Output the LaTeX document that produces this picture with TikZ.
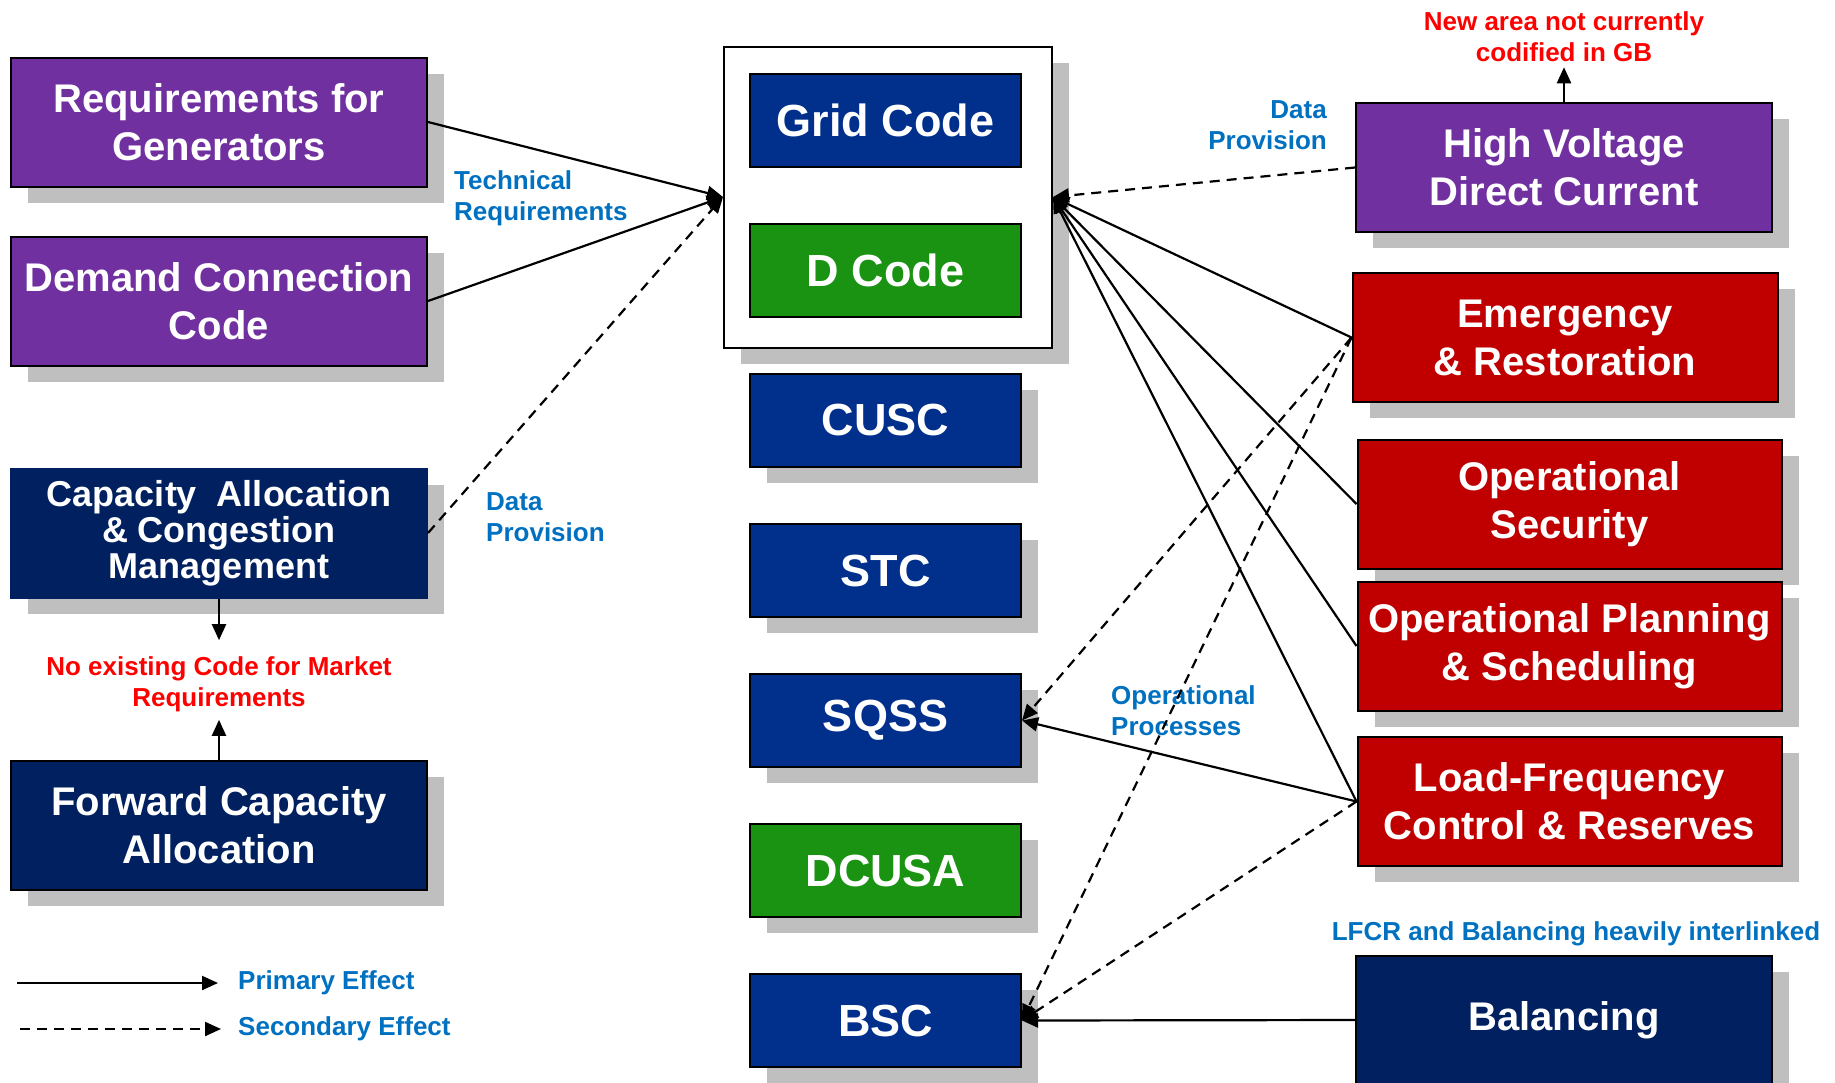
\documentclass[tikz,border=0pt]{standalone}
\usepackage{fontspec}
\setmainfont{Liberation Sans}
\usepackage{tikz}
\usetikzlibrary{positioning}
\usetikzlibrary{shadows}
\usetikzlibrary{arrows.meta}

\definecolor{codepurple}{HTML}{7030A0}
\definecolor{gridblue}{HTML}{00308C}
\definecolor{darknavy}{HTML}{002060}
\definecolor{codegreen}{HTML}{1A9212}
\definecolor{alertred}{HTML}{C00000}
\definecolor{warnred}{HTML}{FF0000}
\definecolor{labelblue}{HTML}{0070C0}
\definecolor{shadowgray}{HTML}{BFBFBF}

\begin{document}
\begin{tikzpicture}[x=1pt, y=-1pt,
		codeframe/.style = {draw, line width=2pt, rectangle, text=white, align=center, inner sep=0pt, font=\bfseries\fontsize{40}{48}\selectfont},
		boxshadow/.style = {drop shadow={shadow xshift=17pt, shadow yshift=-16pt, fill=shadowgray, opacity=1}},
		sidebox/.style = {codeframe, boxshadow, minimum width=416pt, minimum height=129pt},
		codebox/.style = {codeframe, minimum width=271pt, minimum height=93pt, font=\bfseries\fontsize{45}{54}\selectfont},
		note/.style = {text=labelblue, inner sep=0pt, font=\bfseries\fontsize{26}{31}\selectfont},
		warn/.style = {note, text=warnred, align=center},
		effect/.style = {line width=2.2pt, -{Triangle[length=16pt,width=14pt]}},
		side effect/.style = {effect, dash pattern=on 10pt off 7pt}]
		\useasboundingbox (0,0) rectangle (1835,1082);
		\clip (0,0) rectangle (1835,1082);

		\node[sidebox, fill=codepurple] at (219,122) (reqgen) {Requirements for\\Generators};
		\node[sidebox, fill=codepurple] at (219,301) (demand) {Demand Connection\\Code};
		\node[sidebox, fill=darknavy, draw=darknavy, font=\bfseries\fontsize{36}{36}\selectfont] at (219,533) (cacm) {Capacity \ Allocation\\\& Congestion\\Management};
		\node[sidebox, fill=darknavy] at (219,825) (fca) {Forward Capacity\\Allocation};
		\node[warn] at (219,684) (noexist) {No existing Code for Market\\Requirements};

		\node[draw, line width=2pt, fill=white, boxshadow, minimum width=328pt, minimum height=301pt] at (888,197) (codes) {};
		\node[codebox, fill=gridblue] at (885.5,120.5) (grid) {Grid Code};
		\node[codebox, fill=codegreen, below = 55pt of grid] (dcode) {D Code};
		\node[codebox, boxshadow, fill=gridblue, below = 55pt of dcode] (cusc) {CUSC};
		\node[codebox, boxshadow, fill=gridblue, below = 55pt of cusc] (stc) {STC};
		\node[codebox, boxshadow, fill=gridblue, below = 55pt of stc] (sqss) {SQSS};
		\node[codebox, boxshadow, fill=codegreen, below = 55pt of sqss] (dcusa) {DCUSA};
		\node[codebox, boxshadow, fill=gridblue, below = 55pt of dcusa] (bsc) {BSC};

		\node[sidebox, fill=codepurple] at (1564,167.5) (hvdc) {High Voltage\\Direct Current};
		\node[warn] at (1564,37) (newarea) {New area not currently\\codified in GB};
		\node[sidebox, fill=alertred, minimum width=425pt] at (1565,337.5) (emerg) {Emergency\\\& Restoration};
		\node[sidebox, fill=alertred, minimum width=424pt] at (1569.5,504) (opsec) {Operational\\Security};
		\node[sidebox, fill=alertred, minimum width=424pt] at (1569.5,646) (opplan) {Operational Planning\\\& Scheduling};
		\node[sidebox, fill=alertred, minimum width=424pt] at (1569.5,801.5) (lfcr) {Load-Frequency\\Control \& Reserves};
		\node[sidebox, fill=darknavy, minimum height=128pt] at (1564,1020) (bal) {Balancing};

		\node[note, align=left, anchor=west] at (454,198) (techreq) {Technical\\Requirements};
		\node[note, align=left, anchor=west] at (486,517) (dataleft) {Data\\Provision};
		\node[note, align=right, anchor=east] at (1327,125) (dataright) {Data\\Provision};
		\node[note, align=left, anchor=west] at (1111,711) (opproc) {Operational\\Processes};
		\node[note] at (1576,934) (interlink) {LFCR and Balancing heavily interlinked};

		\draw[effect] (reqgen.east) to (codes.west);
		\draw[effect] (demand.east) to (codes.west);
		\draw[side effect] (cacm.east) to (codes.west);
		\draw[side effect] (hvdc.west) to (codes.east);
		\foreach \src in {emerg, opsec, opplan, lfcr}
			\draw[effect] (\src.west) to (codes.east);
		\draw[effect] (lfcr.west) to (sqss.east);
		\draw[side effect] (emerg.west) to (sqss.east);
		\draw[side effect] (emerg.west) to (bsc.east);
		\draw[side effect] (lfcr.west) to (bsc.east);
		\draw[effect] (bal.west) to (bsc.east);

		\draw[effect, shorten >=16pt] (cacm.south) to (noexist.north);
		\draw[effect, shorten >=8pt] (fca.north) to (noexist.south);
		\draw[effect, shorten >=5pt] (hvdc.north) to (newarea.south);

		\coordinate (pstart) at (17,983);
		\coordinate (sstart) at (20,1029);
		\node[note, anchor=west] at (238,983) (primary) {Primary Effect};
		\node[note, anchor=west] at (238,1029) (secondary) {Secondary Effect};
		\draw[effect, shorten >=20pt] (pstart) to (primary.west);
		\draw[side effect, shorten >=17pt] (sstart) to (secondary.west);
	\end{tikzpicture}
\end{document}
